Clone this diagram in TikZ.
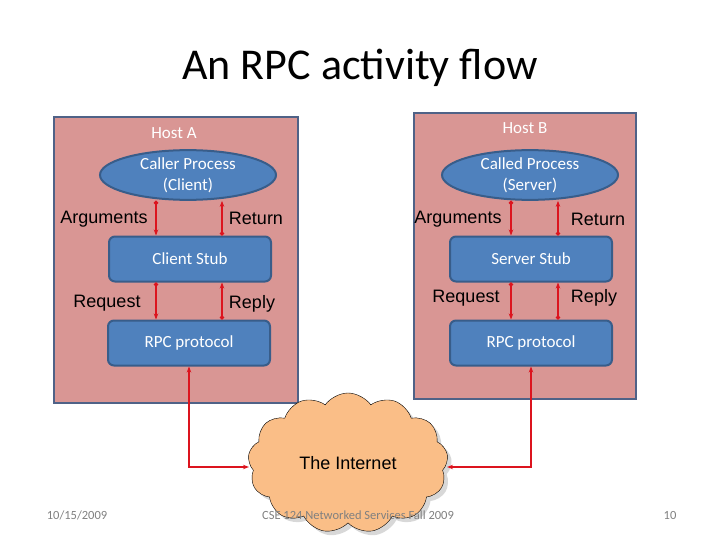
\documentclass[tikz,border=0pt]{standalone}
\usepackage{fontspec}
\setmainfont{Carlito}
\newfontfamily\arialfont{Liberation Sans}
\usetikzlibrary{shapes.geometric, shapes.symbols, shadows, arrows.meta}

\definecolor{hostfill}{RGB}{217,150,148}
\definecolor{hostline}{RGB}{79,98,135}
\definecolor{boxfill}{RGB}{79,129,189}
\definecolor{boxline}{RGB}{56,93,138}
\definecolor{cloudfill}{RGB}{250,190,135}
\definecolor{flow}{RGB}{220,20,30}

\tikzset{
    host/.style   = {draw=hostline, line width=2.5pt, fill=hostfill},
    layer/.style  = {draw=boxline, line width=2pt, fill=boxfill, rounded corners=6pt,
                     minimum width=162pt, minimum height=45pt, text=white, font=\fontsize{17}{20}\selectfont},
    proc/.style   = {ellipse, draw=boxline, line width=2pt, fill=boxfill, minimum width=176pt,
                     minimum height=44pt, inner sep=0pt, text=white, align=center,
                     font=\fontsize{17}{21}\selectfont},
    lbl/.style    = {font=\arialfont\fontsize{18}{20}\selectfont},
    hostlbl/.style= {text=white, font=\fontsize{17}{20}\selectfont},
    link/.style   = {draw=flow, line width=2pt, {Circle[length=4pt]}-{Stealth[length=6pt]}},
    foot/.style   = {text=gray, font=\fontsize{12.5}{14}\selectfont}
}

\begin{document}
\begin{tikzpicture}[x=1pt, y=-1pt]

    \useasboundingbox (0,0) rectangle (720,540);

    \node[font=\fontsize{44}{48}\selectfont] (title) at (360,68) {An RPC activity flow};

    % hosts
    \draw[host] (54,117) rectangle (298,403);
    \draw[host] (414,113) rectangle (636,399);
    \node[hostlbl] (hostA) at (174,133) {Host A};
    \node[hostlbl] (hostB) at (525,128) {Host B};

    % host A
    \node[proc]  (caller)  at (188,175) {Caller Process\\(Client)};
    \node[layer] (cstub)   at (190,259) {Client Stub};
    \node[layer] (cproto)  at (189,343) {RPC protocol};

    % host B
    \node[proc]  (called)  at (530,175) {Called Process\\(Server)};
    \node[layer] (sstub)   at (531,259) {Server Stub};
    \node[layer] (sproto)  at (531,343) {RPC protocol};

    \node[lbl] at (104,219) {Arguments};
    \node[lbl] at (256,218) {Return};
    \node[lbl] at (107,303) {Request};
    \node[lbl] at (252,304) {Reply};
    \node[lbl] at (458,219) {Arguments};
    \node[lbl] at (598,219) {Return};
    \node[lbl] at (466,298) {Request};
    \node[lbl] at (594,298) {Reply};

    % cloud
    \node[cloud, cloud puffs=13, cloud puff arc=110, aspect=1.4, draw, fill=cloudfill,
          drop shadow={shadow xshift=4pt, shadow yshift=-4pt, fill=gray!60},
          minimum width=200pt, minimum height=140pt, lbl] (net) at (348,463) {The Internet};

    % flows
    \draw[link] (caller.south -| 156,0) -- (cstub.north -| 156,0);
    \draw[link] (cstub.north -| 222,0) -- (caller.south -| 222,0);
    \draw[link] (cstub.south -| 156,0) -- (cproto.north -| 156,0);
    \draw[link] (cproto.north -| 222,0) -- (cstub.south -| 222,0);
    \draw[link] (called.south -| 511,0) -- (sstub.north -| 511,0);
    \draw[link] (sstub.north -| 558,0) -- (called.south -| 558,0);
    \draw[link] (sstub.south -| 511,0) -- (sproto.north -| 511,0);
    \draw[link] (sproto.north -| 558,0) -- (sstub.south -| 558,0);

    \coordinate (bendA) at (189,467);
    \draw[draw=flow, line width=2pt, {Stealth[length=6pt]}-{Stealth[length=6pt]}]
        (cproto.south) -- (bendA) -- (net.west |- bendA);
    \draw[draw=flow, line width=2pt, {Stealth[length=6pt]}-{Stealth[length=6pt]}]
        (sproto.south) -- (sproto.south |- bendA) -- (net.east |- bendA);

    % footer
    \node[foot] (date) at (77,515) {10/15/2009};
    \node[foot] (course) at (358,515) {CSE 124 Networked Services Fall 2009};
    \node[foot] (page) at (670,515) {10};

\end{tikzpicture}
\end{document}
